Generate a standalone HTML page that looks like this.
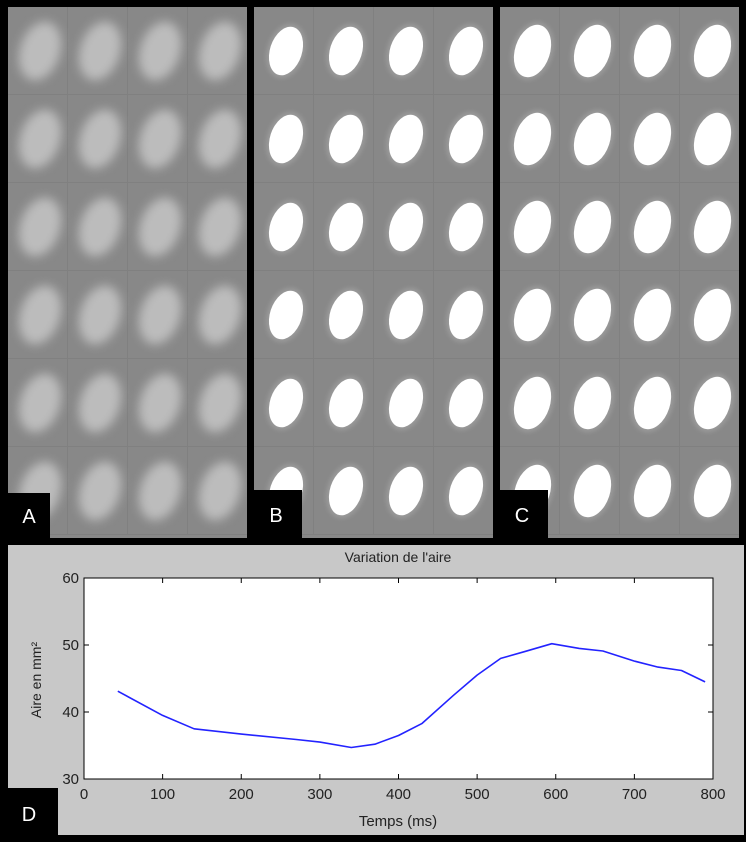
<!DOCTYPE html>
<html><head><meta charset="utf-8"><style>
body{margin:0;width:746px;height:842px;background:#000;position:relative;overflow:hidden;font-family:"Liberation Sans",sans-serif}
.panel{position:absolute;top:7px;width:239px;height:531px;background:#888;overflow:hidden}
.cell{position:absolute;width:60px;height:88px;box-sizing:border-box;border-right:1px solid #808080;border-bottom:1px solid #808080}
.ell{position:absolute;border-radius:50%}
.lab{position:absolute;background:#000;color:#fff;font-size:20px;display:flex;align-items:center;justify-content:center}
</style></head><body>
<div class="panel" id="pA" style="left:8px"></div>
<div class="panel" id="pB" style="left:254px"></div>
<div class="panel" id="pC" style="left:500px"></div>
<div class="lab" style="left:8px;top:493px;width:42px;height:49px">A</div>
<div class="lab" style="left:250px;top:490px;width:52px;height:52px">B</div>
<div class="lab" style="left:496px;top:490px;width:52px;height:52px">C</div>
<div style="position:absolute;left:8px;top:545px;width:736px;height:290px;background:#c8c8c8"></div>
<svg id="chart" width="746" height="842" style="position:absolute;left:0;top:0"></svg>
<div class="lab" style="left:0;top:788px;width:58px;height:54px">D</div>
<script>
function mk(pid,type){
  var p=document.getElementById(pid);
  for(var r=0;r<6;r++)for(var c=0;c<4;c++){
    var cell=document.createElement('div');cell.className='cell';
    cell.style.left=(c*60)+'px';cell.style.top=(r*88)+'px';
    
    
    p.appendChild(cell);
    var e=document.createElement('div');e.className='ell';
    var w=type=='A'?40:(type=='C'?35:32),h=type=='A'?60:(type=='C'?54:50);
    e.style.width=w+'px';e.style.height=h+'px';
    e.style.left=(c*60+32-w/2)+'px';e.style.top=(r*88+44-h/2)+'px';
    e.style.transform='rotate(18deg)';
    if(type=='A'){e.style.background='#bcbcbc';e.style.filter='blur(5px)';}
    else{e.style.background='#fff';e.style.boxShadow='0 0 4px 3px #9a9a9a';}
    
    
    p.appendChild(e);
  }
}
mk('pA','A');mk('pB','B');mk('pC','C');

var times=[43,100,140,200,270,300,340,370,400,430,470,500,530,560,595,630,660,700,730,760,790];
var areas=[43.1,39.5,37.5,36.7,35.9,35.5,34.7,35.2,36.5,38.3,42.5,45.5,48.0,49.0,50.2,49.5,49.1,47.6,46.7,46.2,44.5];
var xTicks=[0,100,200,300,400,500,600,700,800];
var yTicks=[30,40,50,60];
var L=84,R=713,T=578,B=779;
function xs(v){return L+(v-0)/800*(R-L);}
function ys(v){return B-(v-30)/30*(B-T);}
var svg=document.getElementById('chart'),NS='http://www.w3.org/2000/svg';
function el(t,a,txt){var e=document.createElementNS(NS,t);for(var k in a)e.setAttribute(k,a[k]);if(txt!=null)e.textContent=txt;svg.appendChild(e);return e;}
var bg=el('rect',{x:L,y:T,width:R-L,height:B-T,fill:'#fff',stroke:'#000','stroke-width':1});


xTicks.forEach(function(v){
  var x=xs(v);
  var t1=el('line',{x1:x,y1:B,x2:x,y2:B-5,stroke:'#000'});
  
  
  el('line',{x1:x,y1:T,x2:x,y2:T+5,stroke:'#000'});
  var tl=el('text',{x:x,y:B+20,'text-anchor':'middle','font-size':15,fill:'#222'},v);
  
  
});
yTicks.forEach(function(v){
  var y=ys(v);
  var t1=el('line',{x1:L,y1:y,x2:L+5,y2:y,stroke:'#000'});
  
  
  el('line',{x1:R,y1:y,x2:R-5,y2:y,stroke:'#000'});
  var tl=el('text',{x:L-5,y:y+5,'text-anchor':'end','font-size':15,fill:'#222'},v);
  
  
});
var d=times.map(function(t,i){return (i?'L':'M')+xs(t).toFixed(1)+' '+ys(areas[i]).toFixed(1);}).join(' ');
var ln=el('path',{d:d,fill:'none',stroke:'#2323ff','stroke-width':1.6,'stroke-linejoin':'round'});


var ti=el('text',{x:398,y:562,'text-anchor':'middle','font-size':14,fill:'#222'},"Variation de l'aire");


var xt=el('text',{x:398,y:826,'text-anchor':'middle','font-size':15,fill:'#222'},'Temps (ms)');


var yt=el('text',{x:0,y:0,'text-anchor':'middle','font-size':14,fill:'#222',transform:'translate(41,680) rotate(-90)'},'Aire en mm²');


</script>
</body></html>
